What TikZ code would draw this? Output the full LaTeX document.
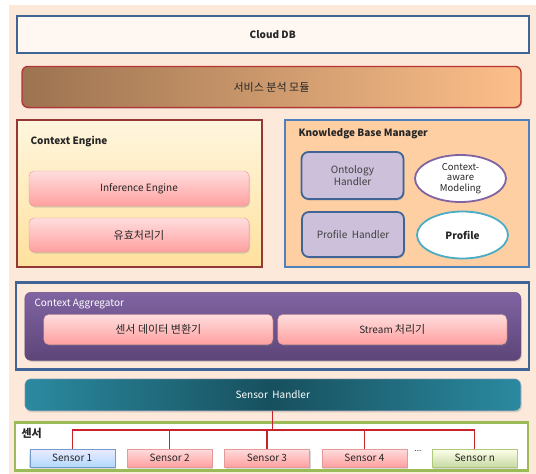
\documentclass[tikz,border=0pt]{standalone}
\usepackage{fontspec}
\setmainfont{Noto Sans CJK KR}
\usetikzlibrary{shapes.geometric, positioning, shadows}

\definecolor{peach}{HTML}{FDE9DA}
\definecolor{dbblue}{HTML}{3F6495}
\definecolor{kbblue}{HTML}{4F81BD}
\definecolor{brownL}{HTML}{9C7350}
\definecolor{brownR}{HTML}{FDBF8A}
\definecolor{darkred}{HTML}{953735}
\definecolor{creamT}{HTML}{FFF6DE}
\definecolor{creamB}{HTML}{FFE19E}
\definecolor{pinkT}{HTML}{FFDDDD}
\definecolor{pinkB}{HTML}{FFA0A0}
\definecolor{pinkD}{HTML}{E39A98}
\definecolor{lavender}{HTML}{CCC0DA}
\definecolor{violet}{HTML}{8064A2}
\definecolor{violetD}{HTML}{5D4579}
\definecolor{cyanish}{HTML}{4BACC6}
\definecolor{tealL}{HTML}{2B8AA0}
\definecolor{tealD}{HTML}{17505E}
\definecolor{greenD}{HTML}{9BBB59}
\definecolor{busred}{HTML}{C8232B}
\definecolor{txt}{HTML}{262626}

\newcommand{\krsize}{\fontsize{11}{13}\selectfont}

\begin{document}
\begin{tikzpicture}[
    x=1pt, y=-1pt,
    font=\fontsize{10}{12}\selectfont,
    text=txt,
    shade/.style={drop shadow={opacity=.3, shadow xshift=1pt, shadow yshift=-1.5pt}},
    layer/.style={
        draw=dbblue,
        line width=2.2pt,
        fill=peach
    },
    band/.style={
        draw,
        rounded corners=6pt,
        shade
    },
    pinkbox/.style={
        draw=pinkD,
        rounded corners=5pt,
        top color=pinkT,
        bottom color=pinkB,
        minimum height=30pt,
        shade
    },
    handler/.style={
        draw=dbblue,
        line width=1.8pt,
        rounded corners=7pt,
        fill=lavender,
        text=black!75,
        align=center,
        minimum width=102pt,
        shade
    },
    oval/.style={
        ellipse,
        draw,
        line width=1.8pt,
        fill=white,
        align=center,
        minimum width=91pt,
        minimum height=47pt,
        inner sep=0pt
    },
    title/.style={
        anchor=west,
        font=\fontsize{10}{12}\selectfont\bfseries
    },
    sensor/.style={
        draw,
        minimum width=85pt,
        minimum height=18pt,
        inner sep=0pt,
        shade
    },
    bus/.style={busred, line width=1.3pt}
]

\useasboundingbox (0,0) rectangle (536,474);
\fill[peach] (9,5) rectangle (536,474);

\node[layer, fill=white!65!peach, minimum width=512pt, minimum height=37pt] (cloud)
    at (272.7,34.2) {\bfseries Cloud DB};

\node[band, draw=red!65!black!80, line width=1.3pt, left color=brownL, right color=brownR,
    minimum width=499pt, minimum height=41pt, font=\krsize] (service)
    at (271.5,86.9) {서비스 분석 모듈};

\node[draw=darkred, line width=2pt, top color=creamT, bottom color=creamB,
    minimum width=245pt, minimum height=147pt] (engine) at (139.5,193.5) {};
\node[title] (enginetitle) at (27,142) {Context Engine};
\node[pinkbox, minimum width=220pt, minimum height=35pt] (inference) at (139,188.5) {Inference Engine};
\node[pinkbox, minimum width=220pt, minimum height=34pt, font=\krsize] (valid) at (139,235) {유효처리기};

\node[draw=kbblue, line width=2pt, fill=orange!25!peach,
    minimum width=244pt, minimum height=147pt] (kbm) at (407,193.5) {};
\node[title] (kbmtitle) at (295,134) {Knowledge Base Manager};
\node[handler, minimum height=47pt] (ontology) at (352.5,175.5) {Ontology\\Handler};
\node[oval, draw=violet, font=\fontsize{9.5}{10.5}\selectfont] (modeling) at (460.5,178.5) {Context-\\aware\\Modeling};
\node[handler, minimum height=45pt] (profhandler) at (353,234.5) {Profile\ \ Handler};
\node[oval, draw=cyanish, font=\fontsize{10}{12}\selectfont\bfseries] (profile) at (462.5,235) {Profile};

\node[layer, minimum width=513pt, minimum height=87pt] (aggframe) at (272.2,326) {};
\node[band, draw=violet!80!black, top color=violet, bottom color=violetD,
    minimum width=496pt, minimum height=68pt] (aggregator) at (272.8,326.3) {};
\node[title, font=\fontsize{10}{12}\selectfont, text=white] (aggtitle) at (31,304) {Context Aggregator};
\node[pinkbox, minimum width=229pt, font=\krsize] (converter) at (158.3,329.5) {센서 데이터 변환기};
\node[pinkbox, minimum width=229pt] (stream) at (392.3,329.5) {Stream {\krsize 처리기}};

\node[band, draw=violet!50, left color=tealL, right color=tealL, middle color=tealD,
    text=white, minimum width=496pt, minimum height=32pt] (sensorhandler)
    at (272.8,394.8) {Sensor\ \ Handler};

\node[draw=greenD, line width=2.2pt, fill=white, minimum width=513pt, minimum height=48pt] (sensorframe)
    at (271.4,446.5) {};
\node[title, font=\krsize\bfseries] (sensortitle) at (18,433) {센서};

\node[sensor, draw=kbblue!80, top color=blue!8!white, bottom color=blue!50!cyan!30!white] (s1) at (72.2,458) {Sensor 1};
\node[sensor, draw=pinkD, top color=pinkT, bottom color=pinkB, right=12pt of s1] (s2) {Sensor 2};
\node[sensor, draw=pinkD, top color=pinkT, bottom color=pinkB, right=12pt of s2] (s3) {Sensor 3};
\node[sensor, draw=pinkD, top color=pinkT, bottom color=pinkB, right=12pt of s3] (s4) {Sensor 4};
\node[sensor, draw=greenD!80, top color=green!8!yellow!8!white, bottom color=greenD!55!white, right=25pt of s4] (sn) {Sensor n};
\node[inner sep=0pt, font=\fontsize{8}{8}\selectfont] (dots) at (418,451) {...};

\draw[bus] (sensorhandler.south) -- ++(0,19) coordinate (junction);
\draw[bus] (junction) -| (s1.north);
\draw[bus] (junction) -| (s2.north);
\draw[bus] (junction) -| (s3.north);
\draw[bus] (junction) -| (s4.north);
\draw[bus] (junction) -| (sn.north);

\end{tikzpicture}
\end{document}
